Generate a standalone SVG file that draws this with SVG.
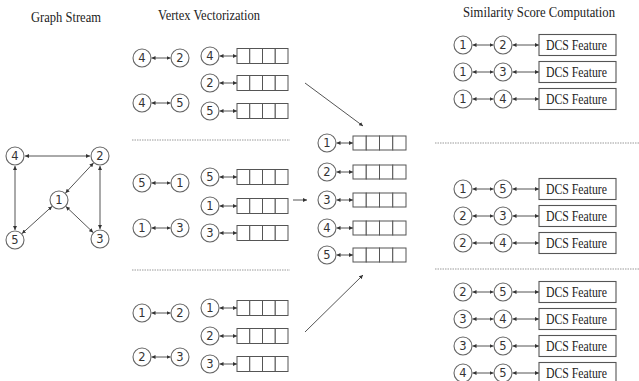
<svg xmlns="http://www.w3.org/2000/svg" xmlns:xlink="http://www.w3.org/1999/xlink" width="639" height="381" viewBox="0 0 639 381">
  <style>
    .bg { fill: #ffffff; }
    .title { font-family: "Liberation Serif", "Times New Roman", serif; font-size: 14px; fill: #222; }
    .v circle { fill: #fff; stroke: #666; stroke-width: 1.1; }
    .n { font-family: "DejaVu Sans", "Liberation Sans", sans-serif; font-size: 11.5px; fill: #333; text-anchor: middle; }
    .dcs { font-family: "Liberation Serif", "Times New Roman", serif; font-size: 14px; fill: #222; text-anchor: start; }
    .cell { fill: #fff; stroke: #555; stroke-width: 1; }
    .dbox { fill: #fff; stroke: #555; stroke-width: 1.1; }
    .edge { stroke: #555; stroke-width: 1; fill: none; marker-start: url(#ah); marker-end: url(#ah); }
    .flow { stroke: #555; stroke-width: 1; fill: none; marker-end: url(#ah); }
    .sep { stroke: #999; stroke-width: 1; stroke-dasharray: 1.5 1; }
  </style>
  <defs>
    <marker id="ah" viewBox="0 0 6 6" refX="6" refY="3" markerWidth="4" markerHeight="4" orient="auto-start-reverse" markerUnits="userSpaceOnUse">
      <path d="M0,0 L6,3 L0,6 z" fill="#333"/>
    </marker>
    <!-- four-cell embedding vector -->
    <g id="vec">
      <rect class="cell" x="0" y="0" width="12.75" height="15"/>
      <rect class="cell" x="12.75" y="0" width="12.75" height="15"/>
      <rect class="cell" x="25.5" y="0" width="12.75" height="15"/>
      <rect class="cell" x="38.25" y="0" width="12.75" height="15"/>
    </g>
    <g id="vecm">
      <rect class="cell" x="0" y="0" width="13.25" height="14"/>
      <rect class="cell" x="13.25" y="0" width="13.25" height="14"/>
      <rect class="cell" x="26.5" y="0" width="13.25" height="14"/>
      <rect class="cell" x="39.75" y="0" width="13.25" height="14"/>
    </g>
  </defs>

  <rect class="bg" x="0" y="0" width="639" height="381"/>

  <!-- section titles -->
  <text class="title" x="31" y="22" textLength="70" lengthAdjust="spacingAndGlyphs">Graph Stream</text>
  <text class="title" x="158" y="20" textLength="102" lengthAdjust="spacingAndGlyphs">Vertex Vectorization</text>
  <text class="title" x="463" y="17" textLength="152" lengthAdjust="spacingAndGlyphs">Similarity Score Computation</text>

  <!-- dotted separators -->
  <g id="separators">
    <line class="sep" x1="132" y1="140" x2="290" y2="140"/>
    <line class="sep" x1="132" y1="270" x2="290" y2="270"/>
    <line class="sep" x1="435" y1="143" x2="639" y2="143"/>
    <line class="sep" x1="435" y1="269" x2="639" y2="269"/>
  </g>

  <!-- connectors -->
  <g id="connectors">
    <!-- graph stream edges -->
    <line class="edge" x1="25" y1="156" x2="90" y2="156"/>
    <line class="edge" x1="15" y1="166" x2="15" y2="230"/>
    <line class="edge" x1="100" y1="166" x2="100" y2="229"/>
    <line class="edge" x1="65.5" y1="193" x2="93.5" y2="163"/>
    <line class="edge" x1="52" y1="206.4" x2="22" y2="233.6"/>
    <line class="edge" x1="65.9" y1="206.5" x2="93.1" y2="232.4"/>

    <!-- edge pairs, vertex vectorization -->
    <line class="edge" x1="151.5" y1="58" x2="170.5" y2="58"/>
    <line class="edge" x1="151.5" y1="103" x2="170.5" y2="103"/>
    <line class="edge" x1="151.5" y1="183" x2="170.5" y2="183"/>
    <line class="edge" x1="151.5" y1="228" x2="170.5" y2="228"/>
    <line class="edge" x1="151.5" y1="313" x2="170.5" y2="313"/>
    <line class="edge" x1="151.5" y1="357" x2="170.5" y2="357"/>

    <!-- vertex to vector links -->
    <line class="edge" x1="219.5" y1="56" x2="237" y2="56"/>
    <line class="edge" x1="219.5" y1="83" x2="237" y2="83"/>
    <line class="edge" x1="219.5" y1="111" x2="237" y2="111"/>
    <line class="edge" x1="219.5" y1="177" x2="237" y2="177"/>
    <line class="edge" x1="219.5" y1="206" x2="237" y2="206"/>
    <line class="edge" x1="219.5" y1="233" x2="237" y2="233"/>
    <line class="edge" x1="219.5" y1="308" x2="237" y2="308"/>
    <line class="edge" x1="219.5" y1="336" x2="237" y2="336"/>
    <line class="edge" x1="219.5" y1="364" x2="237" y2="364"/>

    <line class="edge" x1="336.5" y1="143" x2="353" y2="143"/>
    <line class="edge" x1="336.5" y1="172" x2="353" y2="172"/>
    <line class="edge" x1="336.5" y1="200" x2="353" y2="200"/>
    <line class="edge" x1="336.5" y1="228" x2="353" y2="228"/>
    <line class="edge" x1="336.5" y1="255" x2="353" y2="255"/>

    <!-- merge arrows -->
    <line class="flow" x1="305" y1="83" x2="363" y2="126"/>
    <line class="flow" x1="293" y1="200" x2="307" y2="200"/>
    <line class="flow" x1="305" y1="332" x2="363" y2="275"/>

    <!-- similarity pairs -->
    <line class="edge" x1="472.5" y1="45" x2="493.5" y2="45"/>
    <line class="edge" x1="512.5" y1="45" x2="539" y2="45"/>
    <line class="edge" x1="472.5" y1="72" x2="493.5" y2="72"/>
    <line class="edge" x1="512.5" y1="72" x2="539" y2="72"/>
    <line class="edge" x1="472.5" y1="99" x2="493.5" y2="99"/>
    <line class="edge" x1="512.5" y1="99" x2="539" y2="99"/>
    <line class="edge" x1="472.5" y1="189" x2="493.5" y2="189"/>
    <line class="edge" x1="512.5" y1="189" x2="539" y2="189"/>
    <line class="edge" x1="472.5" y1="216" x2="493.5" y2="216"/>
    <line class="edge" x1="512.5" y1="216" x2="539" y2="216"/>
    <line class="edge" x1="472.5" y1="243" x2="493.5" y2="243"/>
    <line class="edge" x1="512.5" y1="243" x2="539" y2="243"/>
    <line class="edge" x1="472.5" y1="292" x2="493.5" y2="292"/>
    <line class="edge" x1="512.5" y1="292" x2="539" y2="292"/>
    <line class="edge" x1="472.5" y1="319" x2="493.5" y2="319"/>
    <line class="edge" x1="512.5" y1="319" x2="539" y2="319"/>
    <line class="edge" x1="472.5" y1="346" x2="493.5" y2="346"/>
    <line class="edge" x1="512.5" y1="346" x2="539" y2="346"/>
    <line class="edge" x1="472.5" y1="373" x2="493.5" y2="373"/>
    <line class="edge" x1="512.5" y1="373" x2="539" y2="373"/>
  </g>

  <!-- graph stream -->
  <g id="g-4" class="v"><circle cx="15" cy="156" r="9"/><text class="n" x="15" y="160">4</text></g>
  <g id="g-2" class="v"><circle cx="100" cy="156" r="9"/><text class="n" x="100" y="160">2</text></g>
  <g id="g-1" class="v"><circle cx="59" cy="200" r="9"/><text class="n" x="59" y="204">1</text></g>
  <g id="g-5" class="v"><circle cx="15" cy="240" r="9"/><text class="n" x="15" y="244">5</text></g>
  <g id="g-3" class="v"><circle cx="100" cy="239" r="9"/><text class="n" x="100" y="243">3</text></g>

  <!-- vertex vectorization: edge pairs -->
  <g id="p1-a" class="v"><circle cx="142" cy="58" r="9"/><text class="n" x="142" y="62">4</text><circle cx="180" cy="58" r="9"/><text class="n" x="180" y="62">2</text></g>
  <g id="p1-b" class="v"><circle cx="142" cy="103" r="9"/><text class="n" x="142" y="107">4</text><circle cx="180" cy="103" r="9"/><text class="n" x="180" y="107">5</text></g>
  <g id="p2-a" class="v"><circle cx="142" cy="183" r="9"/><text class="n" x="142" y="187">5</text><circle cx="180" cy="183" r="9"/><text class="n" x="180" y="187">1</text></g>
  <g id="p2-b" class="v"><circle cx="142" cy="228" r="9"/><text class="n" x="142" y="232">1</text><circle cx="180" cy="228" r="9"/><text class="n" x="180" y="232">3</text></g>
  <g id="p3-a" class="v"><circle cx="142" cy="313" r="9"/><text class="n" x="142" y="317">1</text><circle cx="180" cy="313" r="9"/><text class="n" x="180" y="317">2</text></g>
  <g id="p3-b" class="v"><circle cx="142" cy="357" r="9"/><text class="n" x="142" y="361">2</text><circle cx="180" cy="357" r="9"/><text class="n" x="180" y="361">3</text></g>

  <!-- vertex vectorization: vectors -->
  <g id="v1-4" class="v"><circle cx="210" cy="56" r="9"/><text class="n" x="210" y="60">4</text><use xlink:href="#vec" x="237" y="48.5"/></g>
  <g id="v1-2" class="v"><circle cx="210" cy="83" r="9"/><text class="n" x="210" y="87">2</text><use xlink:href="#vec" x="237" y="75.5"/></g>
  <g id="v1-5" class="v"><circle cx="210" cy="111" r="9"/><text class="n" x="210" y="115">5</text><use xlink:href="#vec" x="237" y="103.5"/></g>
  <g id="v2-5" class="v"><circle cx="210" cy="177" r="9"/><text class="n" x="210" y="181">5</text><use xlink:href="#vec" x="237" y="169.5"/></g>
  <g id="v2-1" class="v"><circle cx="210" cy="206" r="9"/><text class="n" x="210" y="210">1</text><use xlink:href="#vec" x="237" y="198.5"/></g>
  <g id="v2-3" class="v"><circle cx="210" cy="233" r="9"/><text class="n" x="210" y="237">3</text><use xlink:href="#vec" x="237" y="225.5"/></g>
  <g id="v3-1" class="v"><circle cx="210" cy="308" r="9"/><text class="n" x="210" y="312">1</text><use xlink:href="#vec" x="237" y="300.5"/></g>
  <g id="v3-2" class="v"><circle cx="210" cy="336" r="9"/><text class="n" x="210" y="340">2</text><use xlink:href="#vec" x="237" y="328.5"/></g>
  <g id="v3-3" class="v"><circle cx="210" cy="364" r="9"/><text class="n" x="210" y="368">3</text><use xlink:href="#vec" x="237" y="356.5"/></g>

  <!-- merged vectors -->
  <g id="m-1" class="v"><circle cx="327" cy="143" r="9"/><text class="n" x="327" y="147">1</text><use xlink:href="#vecm" x="353" y="136"/></g>
  <g id="m-2" class="v"><circle cx="327" cy="172" r="9"/><text class="n" x="327" y="176">2</text><use xlink:href="#vecm" x="353" y="165"/></g>
  <g id="m-3" class="v"><circle cx="327" cy="200" r="9"/><text class="n" x="327" y="204">3</text><use xlink:href="#vecm" x="353" y="193"/></g>
  <g id="m-4" class="v"><circle cx="327" cy="228" r="9"/><text class="n" x="327" y="232">4</text><use xlink:href="#vecm" x="353" y="221"/></g>
  <g id="m-5" class="v"><circle cx="327" cy="255" r="9"/><text class="n" x="327" y="259">5</text><use xlink:href="#vecm" x="353" y="248"/></g>

  <!-- similarity score computation -->
  <g id="s-1-2" class="v"><circle cx="463" cy="45" r="9"/><text class="n" x="463" y="49">1</text><circle cx="503" cy="45" r="9"/><text class="n" x="503" y="49">2</text><rect class="dbox" x="539" y="34.5" width="77" height="21"/><text class="dcs" x="546" y="50" textLength="61" lengthAdjust="spacingAndGlyphs">DCS Feature</text></g>
  <g id="s-1-3" class="v"><circle cx="463" cy="72" r="9"/><text class="n" x="463" y="76">1</text><circle cx="503" cy="72" r="9"/><text class="n" x="503" y="76">3</text><rect class="dbox" x="539" y="61.5" width="77" height="21"/><text class="dcs" x="546" y="77" textLength="61" lengthAdjust="spacingAndGlyphs">DCS Feature</text></g>
  <g id="s-1-4" class="v"><circle cx="463" cy="99" r="9"/><text class="n" x="463" y="103">1</text><circle cx="503" cy="99" r="9"/><text class="n" x="503" y="103">4</text><rect class="dbox" x="539" y="88.5" width="77" height="21"/><text class="dcs" x="546" y="104" textLength="61" lengthAdjust="spacingAndGlyphs">DCS Feature</text></g>

  <g id="s-1-5" class="v"><circle cx="463" cy="189" r="9"/><text class="n" x="463" y="193">1</text><circle cx="503" cy="189" r="9"/><text class="n" x="503" y="193">5</text><rect class="dbox" x="539" y="178.5" width="77" height="21"/><text class="dcs" x="546" y="194" textLength="61" lengthAdjust="spacingAndGlyphs">DCS Feature</text></g>
  <g id="s-2-3" class="v"><circle cx="463" cy="216" r="9"/><text class="n" x="463" y="220">2</text><circle cx="503" cy="216" r="9"/><text class="n" x="503" y="220">3</text><rect class="dbox" x="539" y="205.5" width="77" height="21"/><text class="dcs" x="546" y="221" textLength="61" lengthAdjust="spacingAndGlyphs">DCS Feature</text></g>
  <g id="s-2-4" class="v"><circle cx="463" cy="243" r="9"/><text class="n" x="463" y="247">2</text><circle cx="503" cy="243" r="9"/><text class="n" x="503" y="247">4</text><rect class="dbox" x="539" y="232.5" width="77" height="21"/><text class="dcs" x="546" y="248" textLength="61" lengthAdjust="spacingAndGlyphs">DCS Feature</text></g>

  <g id="s-2-5" class="v"><circle cx="463" cy="292" r="9"/><text class="n" x="463" y="296">2</text><circle cx="503" cy="292" r="9"/><text class="n" x="503" y="296">5</text><rect class="dbox" x="539" y="281.5" width="77" height="21"/><text class="dcs" x="546" y="297" textLength="61" lengthAdjust="spacingAndGlyphs">DCS Feature</text></g>
  <g id="s-3-4" class="v"><circle cx="463" cy="319" r="9"/><text class="n" x="463" y="323">3</text><circle cx="503" cy="319" r="9"/><text class="n" x="503" y="323">4</text><rect class="dbox" x="539" y="308.5" width="77" height="21"/><text class="dcs" x="546" y="324" textLength="61" lengthAdjust="spacingAndGlyphs">DCS Feature</text></g>
  <g id="s-3-5" class="v"><circle cx="463" cy="346" r="9"/><text class="n" x="463" y="350">3</text><circle cx="503" cy="346" r="9"/><text class="n" x="503" y="350">5</text><rect class="dbox" x="539" y="335.5" width="77" height="21"/><text class="dcs" x="546" y="351" textLength="61" lengthAdjust="spacingAndGlyphs">DCS Feature</text></g>
  <g id="s-4-5" class="v"><circle cx="463" cy="373" r="9"/><text class="n" x="463" y="377">4</text><circle cx="503" cy="373" r="9"/><text class="n" x="503" y="377">5</text><rect class="dbox" x="539" y="362.5" width="77" height="21"/><text class="dcs" x="546" y="378" textLength="61" lengthAdjust="spacingAndGlyphs">DCS Feature</text></g>
</svg>
